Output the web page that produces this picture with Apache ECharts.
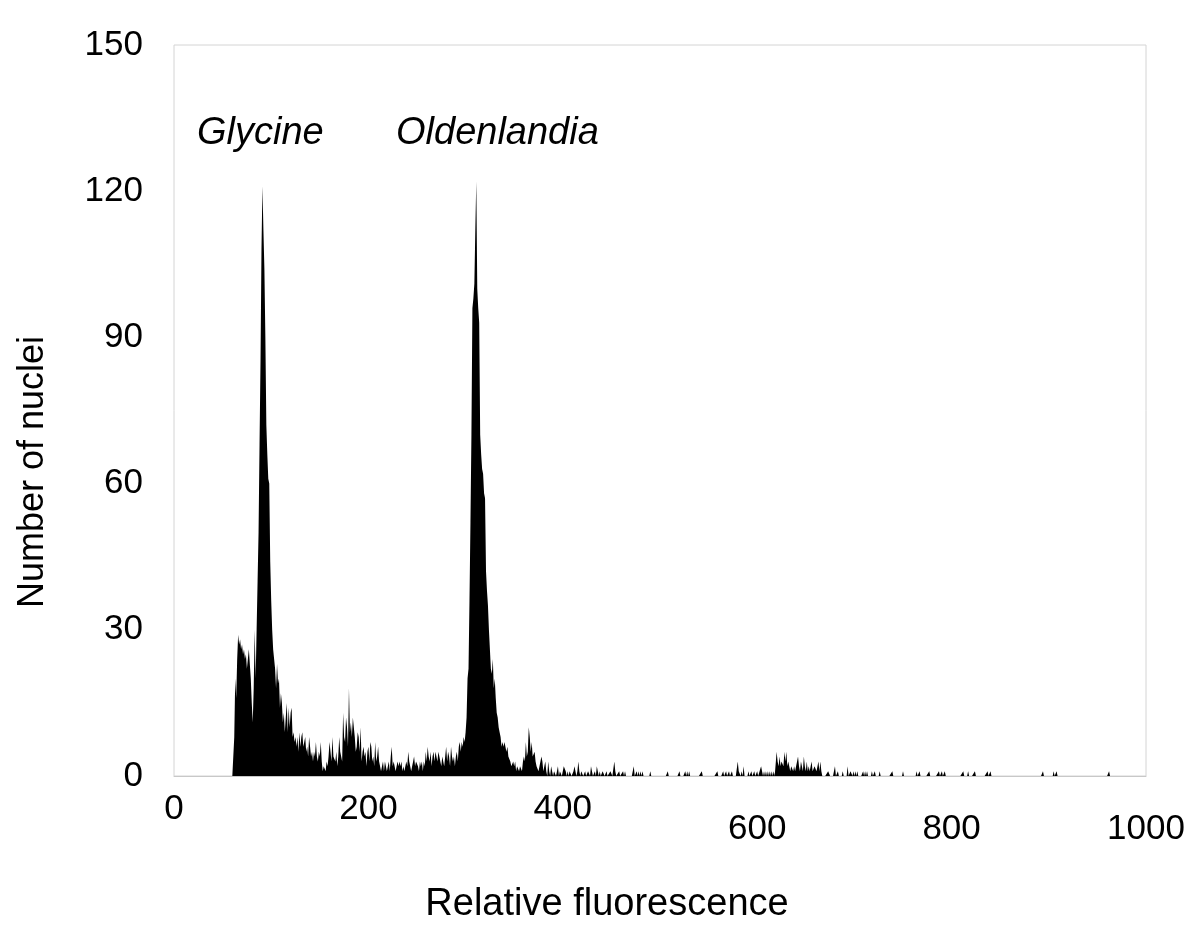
<!DOCTYPE html>
<html>
<head>
<meta charset="utf-8">
<script src="https://cdn.jsdelivr.net/npm/echarts@6/dist/echarts.min.js"></script>
<style>
html,body{margin:0;padding:0;background:#fff;}
#chart{width:1200px;height:937px;}
</style>
</head>
<body>
<div id="chart"></div>
<script>
// Histogram channel counts (relative fluorescence channel -> number of nuclei)
const denseStart = 61;
const denseCounts = [
  0, 8, 20, 16, 24, 29, 27, 28, 26, 27,
  25, 26, 24, 25, 22, 24, 26, 23, 20, 15,
  11, 18, 30, 20, 30, 40, 50, 68, 85, 108,
  121, 112, 104, 90, 72, 66, 61, 60, 44, 36,
  30, 26, 24, 22, 18, 23, 19, 20, 14, 17,
  15, 11, 13, 9, 12, 15, 9, 14, 10, 13,
  14, 8, 9, 7, 8, 6, 8, 5, 9, 6,
  8, 9, 6, 7, 8, 5, 6, 4, 8, 6,
  4, 5, 3, 5, 4, 7, 4, 3, 5, 4,
  7, 3, 1, 2, 2, 1, 3, 2, 4, 7,
  5, 3, 8, 4, 4, 3, 5, 2, 4, 8,
  5, 5, 3, 13, 8, 7, 12, 10, 6, 18,
  9, 11, 8, 12, 10, 8, 5, 6, 9, 8,
  5, 10, 3, 5, 6, 4, 5, 2, 5, 6,
  3, 7, 6, 3, 4, 2, 7, 3, 4, 6,
  3, 2, 1, 2, 3, 1, 3, 2, 1, 2,
  3, 1, 4, 6, 2, 3, 3, 1, 2, 3,
  2, 3, 2, 3, 1, 2, 1, 2, 3, 2,
  5, 3, 2, 1, 2, 3, 4, 2, 3, 3,
  2, 1, 3, 2, 3, 1, 3, 2, 5, 3,
  6, 4, 3, 5, 2, 4, 5, 3, 5, 4,
  3, 5, 4, 3, 2, 4, 3, 2, 4, 6,
  3, 5, 4, 2, 6, 4, 3, 4, 2, 4,
  5, 3, 6, 7, 5, 7, 6, 8, 7, 9,
  12, 20, 22, 36, 52, 70, 96, 98, 101, 112,
  122, 100, 96, 93, 70, 66, 63, 62, 58, 57,
  42, 38, 35, 30, 26, 22, 21, 24, 18, 20,
  16, 13, 12, 10, 9, 8, 6, 7, 6, 7,
  7, 5, 6, 4, 4, 3, 2, 2, 3, 2,
  3, 1, 2, 2, 1, 2, 2, 1, 3, 4,
  3, 7, 4, 5, 10, 8, 5, 7, 4, 4,
  5, 3, 2, 2, 1, 1, 3, 4, 3, 1,
  2, 3, 1, 0, 3, 1, 0, 2, 1, 0,
  1, 1, 0, 1, 2, 0, 1, 1, 0, 1,
  2, 2, 1, 0, 1, 0, 1, 1, 0, 0,
  1, 2, 1, 0, 1, 3, 1, 0, 1, 1,
  0, 0, 1, 0, 0, 1, 1, 0, 2, 1,
  0, 0, 1, 0, 2, 1, 0, 1, 0, 0,
  1, 1, 0, 0, 1, 0, 0, 0, 1, 1,
  0, 0, 3, 1, 0, 0, 0, 1, 0, 0,
  0, 1, 0
];
const bumpStart = 618;
const bumpCounts = [
  0, 0, 5, 3, 2, 4, 2, 3, 3, 2,
  5, 3, 5, 2, 3, 3, 1, 2, 2, 1,
  2, 1, 2, 3, 4, 2, 1, 3, 2, 1,
  4, 2, 1, 3, 1, 2, 1, 2, 3, 1,
  1, 2, 2, 1, 1, 3, 1, 3, 1, 0
];
const sparseChannels = [464, 473, 476, 478, 480, 482, 490, 508, 520, 526, 528, 530, 543, 559, 565, 568, 571, 574, 580, 581, 582, 584, 586, 591, 594, 597, 600, 604, 605, 607, 609, 611, 613, 615, 617, 673, 674, 680, 683, 688, 693, 696, 697, 699, 701, 703, 709, 711, 713, 718, 721, 726, 739, 750, 764, 767, 777, 787, 790, 793, 812, 817, 824, 837, 840, 894, 905, 908, 962];
const sparseCounts   = [1, 2, 1, 1, 1, 1, 1, 1, 1, 1, 1, 1, 1, 1, 1, 1, 1, 1, 3, 1, 1, 1, 2, 1, 1, 1, 1, 2, 1, 1, 1, 1, 1, 1, 1, 1, 1, 2, 1, 1, 2, 1, 1, 1, 1, 1, 1, 1, 1, 1, 1, 1, 1, 1, 1, 1, 1, 1, 1, 1, 1, 1, 1, 1, 1, 1, 1, 1, 1];

const xTicks = [0, 200, 400, 600, 800, 1000];
const yTicks = [0, 30, 60, 90, 120, 150];
const peakLabels = ['Glycine', 'Oldenlandia'];
const xTitle = 'Relative fluorescence';
const yTitle = 'Number of nuclei';

// Build full histogram (empty channels have zero nuclei)
const nChannels = 1001;
const hist = new Array(nChannels).fill(0);
denseCounts.forEach((c, i) => { hist[denseStart + i] = c; });
bumpCounts.forEach((c, i) => { hist[bumpStart + i] = c; });
sparseChannels.forEach((ch, i) => { hist[ch] = sparseCounts[i]; });
const seriesData = hist.map((c, ch) => [ch, c]);

const chart = echarts.init(document.getElementById('chart'), null, {renderer: 'canvas'});
const FONT = 'Liberation Sans, Arial, Helvetica, sans-serif';
chart.setOption({
  animation: false,
  backgroundColor: '#ffffff',
  grid: {left: 174, right: 54, top: 45, bottom: 161, show: true, borderColor: '#d4d4d4', borderWidth: 1, backgroundColor: 'transparent'},
  xAxis: {
    type: 'value', min: xTicks[0], max: xTicks[xTicks.length - 1], interval: 200,
    axisLine: {show: true, lineStyle: {color: '#c8c8c8', width: 1}},
    axisTick: {show: false},
    splitLine: {show: false},
    axisLabel: {
      margin: 16, color: '#000', fontFamily: FONT, fontSize: 35,
      formatter: v => (v >= 600 ? '{lo|' + v + '}' : '{hi|' + v + '}'),
      rich: {
        hi: {fontFamily: FONT, fontSize: 35, color: '#000', padding: [0, 0, 0, 0]},
        lo: {fontFamily: FONT, fontSize: 35, color: '#000', padding: [20, 0, 0, 0]}
      }
    }
  },
  yAxis: {
    type: 'value', min: yTicks[0], max: yTicks[yTicks.length - 1], interval: 30,
    axisLine: {show: false}, axisTick: {show: false}, splitLine: {show: false},
    axisLabel: {margin: 31, color: '#000', fontFamily: FONT, fontSize: 35}
  },
  series: [{
    type: 'line',
    data: seriesData,
    symbol: 'none',
    sampling: null,
    lineStyle: {width: 0, color: '#000'},
    areaStyle: {color: '#000', opacity: 1},
    silent: true
  }],
  graphic: [
    {type: 'text', left: 197, top: 114, style: {text: peakLabels[0], font: 'italic 38px ' + FONT, fill: '#000'}},
    {type: 'text', left: 396, top: 114, style: {text: peakLabels[1], font: 'italic 38px ' + FONT, fill: '#000'}},
    {type: 'text', x: 607, y: 905, style: {text: xTitle, font: '38px ' + FONT, fill: '#000', textAlign: 'center', textVerticalAlign: 'middle'}},
    {type: 'text', x: 33, y: 472, rotation: Math.PI / 2, style: {text: yTitle, font: '36px ' + FONT, fill: '#000', textAlign: 'center', textVerticalAlign: 'middle'}}
  ]
});
</script>
</body>
</html>
